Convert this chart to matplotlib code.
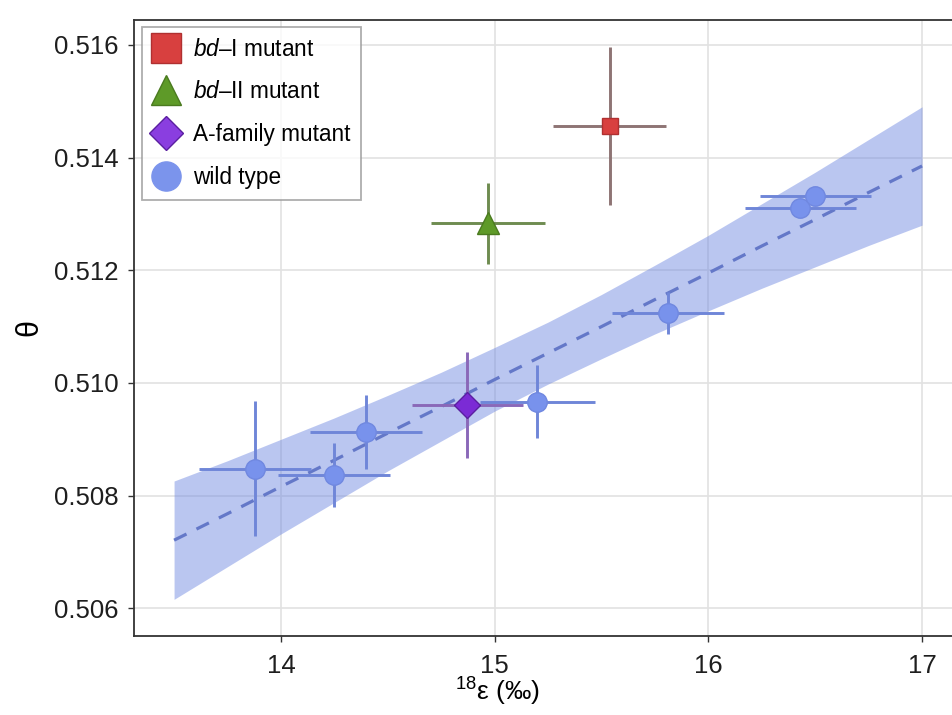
import matplotlib
matplotlib.use('Agg')
import matplotlib.pyplot as plt
from matplotlib.lines import Line2D

plt.rcParams['font.family'] = ['Liberation Sans', 'DejaVu Sans']
plt.rcParams['mathtext.fontset'] = 'custom'
plt.rcParams['mathtext.rm'] = 'Liberation Sans'
plt.rcParams['mathtext.it'] = 'Liberation Sans:italic'
plt.rcParams['lines.scale_dashes'] = False

# ---- data ----
wt_x = [13.88, 14.25, 14.40, 15.20, 15.81, 16.43, 16.50]
wt_y = [0.50848, 0.50837, 0.50913, 0.50967, 0.51124, 0.51310, 0.51332]
wt_xerr = [0.263, 0.262, 0.262, 0.27, 0.261, 0.26, 0.26]
wt_yerr = [0.0012, 0.00057, 0.00065, 0.00065, 0.00038, 0.00015, 0.00015]

bd1_x = [15.538]
bd1_y = [0.51456]
bd1_xerr = [0.265]
bd1_yerr = [0.0014]

bd2_x = [14.969]
bd2_y = [0.51283]
bd2_xerr = [0.265]
bd2_yerr = [0.00072]

af_x = [14.871]
af_y = [0.50961]
af_xerr = [0.26]
af_yerr = [0.00094]

fit_x = [13.5, 13.75, 14.0, 14.25, 14.5, 14.75, 15.0, 15.25,
         15.5, 15.75, 16.0, 16.25, 16.5, 16.75, 17.0]
fit_y = [0.50721, 0.50768, 0.50816, 0.50863, 0.50911, 0.50958, 0.51006, 0.51053,
         0.51100, 0.51148, 0.51195, 0.51243, 0.51290, 0.51338, 0.51385]
fit_lo = [0.50616, 0.50674, 0.50732, 0.50788, 0.50844, 0.50897, 0.50950, 0.50998,
          0.51043, 0.51087, 0.51128, 0.51168, 0.51206, 0.51244, 0.51280]
fit_hi = [0.50826, 0.50862, 0.50900, 0.50938, 0.50978, 0.51019, 0.51063, 0.51108,
          0.51157, 0.51209, 0.51262, 0.51318, 0.51374, 0.51432, 0.51490]

x_ticks = [14, 15, 16, 17]
y_ticks = [0.506, 0.508, 0.510, 0.512, 0.514, 0.516]
y_ticklabels = ['0.506', '0.508', '0.510', '0.512', '0.514', '0.516']

labels = ['$\\it{bd}$–I mutant', '$\\it{bd}$–II mutant', 'A-family mutant', 'wild type']

# ---- figure ----
W, H = 952, 715
fig = plt.figure(figsize=(W / 100, H / 100), dpi=100)
ax = fig.add_axes([134 / W, 1 - 636 / H, 1 - 134 / W, (636 - 20) / H])
ax.set_xlim(13.3125, 17.14)
ax.set_ylim(0.50551, 0.51644)

ax.set_xticks(x_ticks)
ax.set_yticks(y_ticks)
ax.set_yticklabels(y_ticklabels)
ax.grid(True, color='#e2e2e2', linewidth=1.2, zorder=0)
ax.set_axisbelow(True)
for s in ['left', 'bottom', 'top']:
    ax.spines[s].set_color('#333333')
    ax.spines[s].set_linewidth(1.3)
ax.spines['right'].set_visible(False)
ax.tick_params(axis='both', direction='out', length=4, width=1.0, color='#333333',
               labelsize=18.5, labelcolor='#1e1e1e')
ax.tick_params(axis='y', pad=7)
ax.tick_params(axis='x', pad=9)

# confidence band and fit line
ax.fill_between(fit_x, fit_lo, fit_hi, color='#6e87e1', alpha=0.47, linewidth=0, zorder=1)
ax.plot(fit_x, fit_y, color='#6478c8', linewidth=2.3, dashes=(10, 8), zorder=2)

# error bars
ekw = dict(fmt='none', elinewidth=2.1, capsize=0, zorder=3)
ax.errorbar(wt_x, wt_y, xerr=wt_xerr, yerr=wt_yerr, ecolor='#6f86d8', **ekw)
ax.errorbar(bd1_x, bd1_y, xerr=bd1_xerr, yerr=bd1_yerr, ecolor='#8e7474', **ekw)
ax.errorbar(bd2_x, bd2_y, xerr=bd2_xerr, yerr=bd2_yerr, ecolor='#6e8c50', **ekw)
ax.errorbar(af_x, af_y, xerr=af_xerr, yerr=af_yerr, ecolor='#8a68b8', **ekw)

# markers
ax.plot(wt_x, wt_y, 'o', ms=14, color='#7892ec', markeredgecolor='#7088e0', mew=1, zorder=4, linestyle='none')
ax.plot(bd1_x, bd1_y, 's', ms=12, color='#d8403f', markeredgecolor='#b03030', mew=1, zorder=4, linestyle='none')
ax.plot(bd2_x, bd2_y, '^', ms=16, color='#5e9a28', markeredgecolor='#4a7a1f', mew=1, zorder=4, linestyle='none')
ax.plot(af_x, af_y, 'D', ms=13, color='#7b2bd5', markeredgecolor='#5a1fa0', mew=1, zorder=4, linestyle='none')

# legend
handles = [
    Line2D([], [], marker='s', ms=21, color='#d8403f', markeredgecolor='#b03030', linestyle='none'),
    Line2D([], [], marker='^', ms=22, color='#5e9a28', markeredgecolor='#4a7a1f', linestyle='none'),
    Line2D([], [], marker='D', ms=17, color='#8a3ee0', markeredgecolor='#5a1fa0', linestyle='none'),
    Line2D([], [], marker='o', ms=21, color='#7b94ec', markeredgecolor='#7b94ec', linestyle='none'),
]
leg = ax.legend(handles, labels, loc='upper left', bbox_to_anchor=(0.0094, 0.989),
                borderaxespad=0, fontsize=16.3, frameon=True, fancybox=False,
                edgecolor='#999999', handlelength=1.15, handletextpad=0.62,
                labelspacing=0.87, borderpad=0.48)
leg.get_frame().set_linewidth(1.3)

ax.set_ylabel('θ', fontsize=22, labelpad=7)
ax.set_xlabel('$^{18}$ε (‰)', fontsize=19)
ax.xaxis.set_label_coords((497 - 134) / (W - 134), -0.065)

fig.savefig('out.png', dpi=100)
